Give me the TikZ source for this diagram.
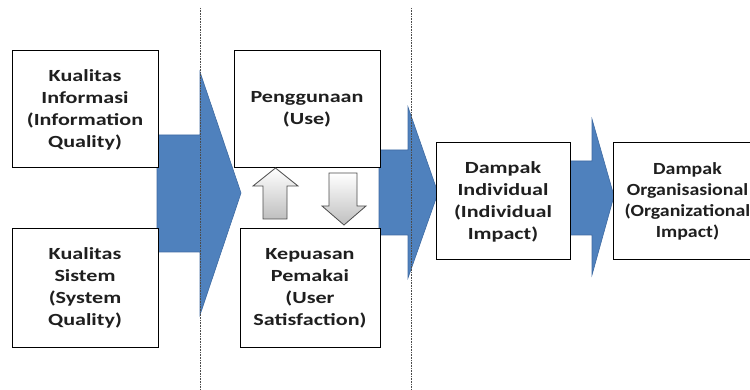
\documentclass[tikz,border=0pt]{standalone}
\usepackage{fontspec}
\setmainfont{Carlito}[FakeStretch=1.3]
\newfontfamily\orgfont{Carlito}[FakeStretch=1.17]
\definecolor{ablue}{RGB}{79,129,189}
\definecolor{ablueline}{RGB}{62,106,162}
\begin{document}
\begin{tikzpicture}[x=1pt,y=-1pt,
  box/.style={draw=black, line width=1pt, fill=white, inner sep=0pt, outer sep=0pt,
    align=center, font=\fontsize{17}{22}\selectfont\bfseries, text=black!88},
  blk/.style={fill=ablue, draw=ablueline, line width=0.6pt},
  garrow/.style={draw=gray!60!black, line width=0.8pt, top color=white, bottom color=gray!50},
  sep/.style={draw=gray!60!black, line width=0.8pt, dash pattern=on 0.8pt off 0.8pt}]
\useasboundingbox (0,0) rectangle (750,390);
\clip (0,0) rectangle (750,390);
% block arrows
\draw[blk] (157,135) -- (200,135) -- (200,72) -- (241,193) -- (200,315) -- (200,252) -- (157,252) -- cycle;
\draw[blk] (379,150) -- (408,150) -- (408,107) -- (438,193) -- (408,278) -- (408,235) -- (379,235) -- cycle;
\draw[blk] (569,161) -- (592,161) -- (592,119) -- (614,196) -- (592,275) -- (592,235) -- (569,235) -- cycle;
% boxes
\node[box, minimum width=146, minimum height=117] (iq) at (85,109.5) {Kualitas\\Informasi\\(Information\\Quality)};
\node[box, minimum width=146, minimum height=118] (sq) at (85,288) {Kualitas\\Sistem\\(System\\Quality)};
\node[box, minimum width=146, minimum height=117] (use) at (307,109.5) {Penggunaan\\(Use)};
\node[box, minimum width=140, minimum height=118] (us) at (310,288) {Kepuasan\\Pemakai\\(User\\Satisfaction)};
\node[box, minimum width=134, minimum height=117] (ii) at (503,201.5) {Dampak\\Individual\\(Individual\\Impact)};
\node[box, minimum width=149, minimum height=117, font=\orgfont\fontsize{17}{21}\selectfont\bfseries] (oi) at (687.5,201.5) {Dampak\\Organisasional\\(Organizational\\Impact)};
% gray arrows
\draw[garrow] (275.5,168) -- (298,186) -- (287,186) -- (287,219) -- (263,219) -- (263,186) -- (253,186) -- cycle;
\draw[garrow] (329,173) -- (357,173) -- (357,206) -- (366,206) -- (344,225) -- (322,206) -- (329,206) -- cycle;
% separators
\coordinate (s1t) at (200,8); \coordinate (s1b) at (200,390);
\coordinate (s2t) at (411,8); \coordinate (s2b) at (411,390);
\draw[sep] (s1t) -- (s1b);
\draw[sep] (s2t) -- (s2b);
\end{tikzpicture}
\end{document}
